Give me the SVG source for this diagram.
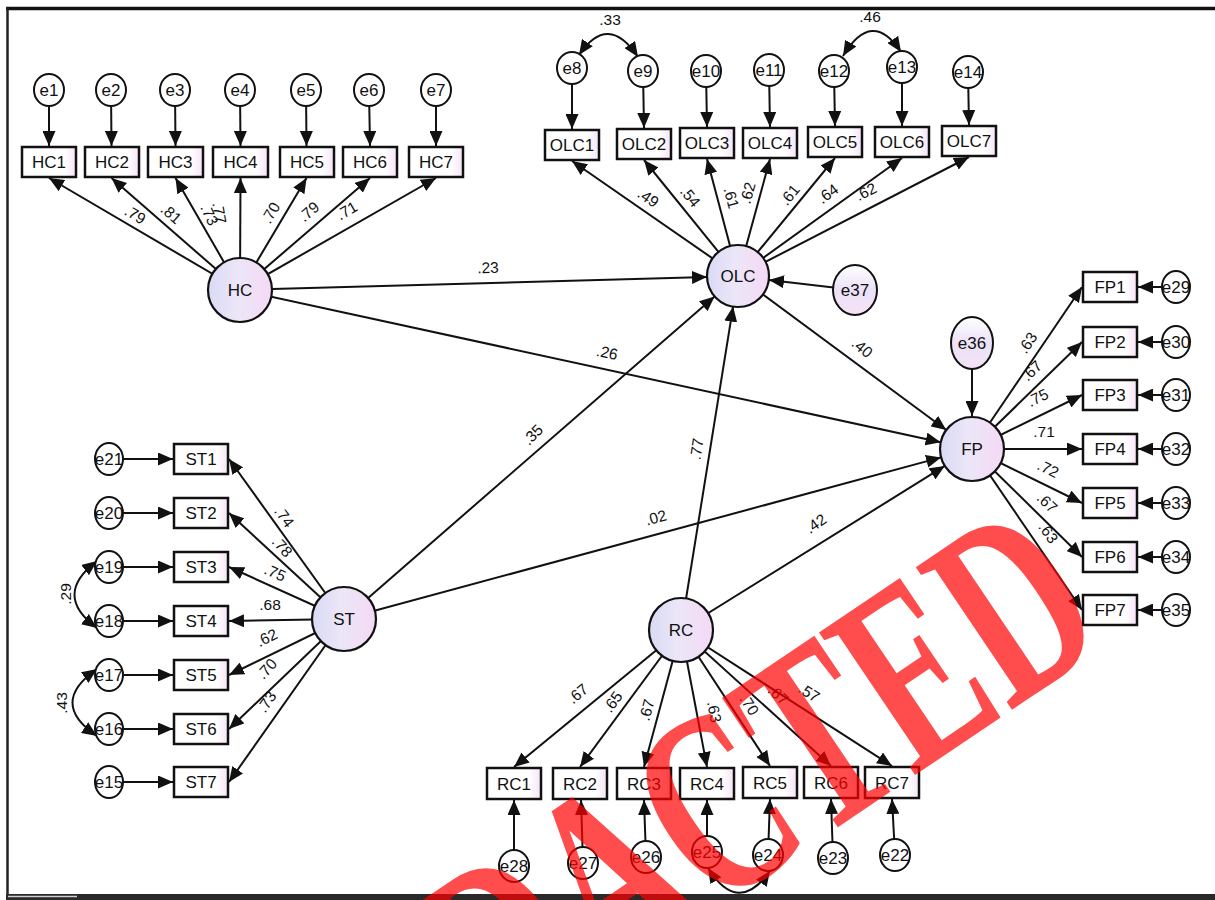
<svg xmlns="http://www.w3.org/2000/svg" width="1215" height="900" viewBox="0 0 1215 900">
<defs>
  <linearGradient id="latg" x1="0" y1="0" x2="1" y2="0">
    <stop offset="0" stop-color="#d8daf5"/>
    <stop offset="0.45" stop-color="#ece6f8"/>
    <stop offset="1" stop-color="#f4d9f4"/>
  </linearGradient>
  <linearGradient id="boxg" x1="0" y1="0" x2="1" y2="0">
    <stop offset="0" stop-color="#ffffff"/>
    <stop offset="0.78" stop-color="#ffffff"/>
    <stop offset="1" stop-color="#f6e4f7"/>
  </linearGradient>
  <linearGradient id="resg" x1="0" y1="0" x2="0" y2="1">
    <stop offset="0" stop-color="#ffffff"/>
    <stop offset="0.5" stop-color="#ebe1f7"/>
    <stop offset="1" stop-color="#f5e3f6"/>
  </linearGradient>
  <marker id="ah" markerUnits="userSpaceOnUse" markerWidth="16" markerHeight="13" refX="15" refY="6.5" orient="auto">
    <path d="M0,0 L15,6.5 L0,13 z" fill="#111"/>
  </marker>
  <marker id="ah2" markerUnits="userSpaceOnUse" markerWidth="16" markerHeight="13" refX="15" refY="6.5" orient="auto-start-reverse">
    <path d="M0,0 L15,6.5 L0,13 z" fill="#111"/>
  </marker>
</defs>
<style>
  .box{fill:url(#boxg);stroke:#111;stroke-width:2.5}
  .lat{fill:url(#latg);stroke:#111;stroke-width:2.2}
  .err{fill:#fff;stroke:#111;stroke-width:2}
  .res{fill:url(#resg);stroke:#111;stroke-width:2}
  .t{font-family:"Liberation Sans",Arial,sans-serif;font-size:17px;text-anchor:middle;fill:#111}
  .w{font-family:"Liberation Sans",Arial,sans-serif;font-size:15.5px;text-anchor:middle;fill:#111}
  .c{stroke:#111;stroke-width:2;fill:none;marker-end:url(#ah)}
  .cv{stroke:#111;stroke-width:2;fill:none;marker-start:url(#ah2);marker-end:url(#ah2)}
  .stamp{font-family:"Liberation Serif","Times New Roman",serif;font-weight:bold;font-size:175px;fill:#ff0000;fill-opacity:0.7}
</style>

<rect x="0" y="0" width="1215" height="900" fill="#fff"/>

<!-- frame -->
<g id="frame">
  <line x1="6" y1="8.5" x2="1215" y2="8.5" stroke="#111" stroke-width="3.5"/>
  <line x1="7.5" y1="7" x2="7.5" y2="896" stroke="#222" stroke-width="2.5"/>
  <rect x="6" y="894" width="1209" height="6" fill="#2a2a2a"/>
  <line x1="8" y1="896.5" x2="77" y2="896.5" stroke="#cfcfcf" stroke-width="1.5"/>
</g>

<!-- connectors -->
<g id="connectors">
  <!-- HC indicators -->
  <line class="c" x1="240" y1="290" x2="49" y2="178"/>
  <line class="c" x1="240" y1="290" x2="111.5" y2="178"/>
  <line class="c" x1="240" y1="290" x2="175.5" y2="178"/>
  <line class="c" x1="240" y1="290" x2="240.5" y2="178"/>
  <line class="c" x1="240" y1="290" x2="306.5" y2="178"/>
  <line class="c" x1="240" y1="290" x2="370" y2="178"/>
  <line class="c" x1="240" y1="290" x2="436" y2="178"/>
  <line class="c" x1="49" y1="90" x2="49" y2="146"/>
  <line class="c" x1="111" y1="90" x2="111.5" y2="146"/>
  <line class="c" x1="175" y1="90" x2="175.5" y2="146"/>
  <line class="c" x1="240" y1="90" x2="240.5" y2="146"/>
  <line class="c" x1="306" y1="90" x2="306.5" y2="146"/>
  <line class="c" x1="369" y1="90" x2="370" y2="146"/>
  <line class="c" x1="436" y1="90" x2="436" y2="146"/>

  <!-- OLC indicators -->
  <line class="c" x1="738" y1="276" x2="572" y2="161"/>
  <line class="c" x1="738" y1="276" x2="644" y2="160"/>
  <line class="c" x1="738" y1="276" x2="707" y2="159"/>
  <line class="c" x1="738" y1="276" x2="770" y2="159"/>
  <line class="c" x1="738" y1="276" x2="835" y2="158"/>
  <line class="c" x1="738" y1="276" x2="902" y2="158"/>
  <line class="c" x1="738" y1="276" x2="969" y2="157"/>
  <line class="c" x1="572" y1="68" x2="572" y2="129"/>
  <line class="c" x1="643" y1="71" x2="644" y2="128"/>
  <line class="c" x1="706" y1="71" x2="707" y2="127"/>
  <line class="c" x1="769" y1="70" x2="770" y2="127"/>
  <line class="c" x1="834" y1="71" x2="835" y2="126"/>
  <line class="c" x1="902" y1="67" x2="902" y2="126"/>
  <line class="c" x1="968" y1="72" x2="969" y2="125"/>
  <path class="cv" d="M579,55 Q608,12 638,57"/>
  <path class="cv" d="M843,56 Q872,8 901,52"/>

  <!-- FP indicators -->
  <line class="c" x1="972" y1="449" x2="1082" y2="287"/>
  <line class="c" x1="972" y1="449" x2="1082" y2="342"/>
  <line class="c" x1="972" y1="449" x2="1082" y2="395"/>
  <line class="c" x1="972" y1="449" x2="1082" y2="449"/>
  <line class="c" x1="972" y1="449" x2="1082" y2="503"/>
  <line class="c" x1="972" y1="449" x2="1082" y2="557"/>
  <line class="c" x1="972" y1="449" x2="1082" y2="610"/>
  <line class="c" x1="1176" y1="287" x2="1138" y2="287"/>
  <line class="c" x1="1176" y1="342" x2="1138" y2="342"/>
  <line class="c" x1="1176" y1="395" x2="1138" y2="395"/>
  <line class="c" x1="1176" y1="449" x2="1138" y2="449"/>
  <line class="c" x1="1176" y1="503" x2="1138" y2="503"/>
  <line class="c" x1="1176" y1="557" x2="1138" y2="557"/>
  <line class="c" x1="1176" y1="610" x2="1138" y2="610"/>

  <!-- ST indicators -->
  <line class="c" x1="344" y1="619" x2="229" y2="459"/>
  <line class="c" x1="344" y1="619" x2="229" y2="513"/>
  <line class="c" x1="344" y1="619" x2="229" y2="567"/>
  <line class="c" x1="344" y1="619" x2="229" y2="621"/>
  <line class="c" x1="344" y1="619" x2="229" y2="675"/>
  <line class="c" x1="344" y1="619" x2="229" y2="729"/>
  <line class="c" x1="344" y1="619" x2="229" y2="782"/>
  <line class="c" x1="109" y1="459" x2="173" y2="459"/>
  <line class="c" x1="109" y1="513" x2="173" y2="513"/>
  <line class="c" x1="109" y1="567" x2="173" y2="567"/>
  <line class="c" x1="109" y1="621" x2="173" y2="621"/>
  <line class="c" x1="109" y1="675" x2="173" y2="675"/>
  <line class="c" x1="109" y1="729" x2="173" y2="729"/>
  <line class="c" x1="109" y1="782" x2="173" y2="782"/>
  <path class="cv" d="M97,561 Q52,595 97,628"/>
  <path class="cv" d="M97,669 Q48,703 97,736"/>

  <!-- RC indicators -->
  <line class="c" x1="681" y1="630" x2="514" y2="767"/>
  <line class="c" x1="681" y1="630" x2="580" y2="767"/>
  <line class="c" x1="681" y1="630" x2="644" y2="767"/>
  <line class="c" x1="681" y1="630" x2="707" y2="767"/>
  <line class="c" x1="681" y1="630" x2="770" y2="766"/>
  <line class="c" x1="681" y1="630" x2="831" y2="766"/>
  <line class="c" x1="681" y1="630" x2="892" y2="766"/>
  <line class="c" x1="514" y1="866" x2="514" y2="800"/>
  <line class="c" x1="583" y1="863" x2="581" y2="800"/>
  <line class="c" x1="646" y1="857" x2="644" y2="800"/>
  <line class="c" x1="707" y1="852" x2="707" y2="800"/>
  <line class="c" x1="768" y1="855" x2="770" y2="799"/>
  <line class="c" x1="833" y1="858" x2="831" y2="799"/>
  <line class="c" x1="895" y1="855" x2="892" y2="799"/>
  <path class="cv" d="M708,868 Q738,916 770,871"/>

  <!-- structural paths -->
  <line class="c" x1="240" y1="290" x2="707" y2="277"/>
  <line class="c" x1="240" y1="290" x2="940.7" y2="442.2"/>
  <line class="c" x1="344" y1="619" x2="714.6" y2="296.4"/>
  <line class="c" x1="344" y1="619" x2="941.1" y2="457.4"/>
  <line class="c" x1="681" y1="630" x2="733.1" y2="306.6"/>
  <line class="c" x1="681" y1="630" x2="944.8" y2="465.9"/>
  <line class="c" x1="738" y1="276" x2="946.3" y2="430"/>
  <line class="c" x1="855" y1="290" x2="769" y2="280"/>
  <line class="c" x1="972" y1="343" x2="972" y2="416"/>
</g>

<!-- path coefficients -->
<g id="weights">
  <text class="w" dy="5" transform="translate(135,215) rotate(30)">.79</text>
  <text class="w" dy="5" transform="translate(171,214) rotate(41)">.81</text>
  <text class="w" dy="5" transform="translate(209,215) rotate(65)">.73</text>
  <text class="w" dy="5" transform="translate(219,213) rotate(80)">.77</text>
  <text class="w" dy="5" transform="translate(271,213) rotate(-60)">.70</text>
  <text class="w" dy="5" transform="translate(309,212) rotate(-41)">.79</text>
  <text class="w" dy="5" transform="translate(347,211) rotate(-30)">.71</text>

  <text class="w" dy="5" transform="translate(648,198) rotate(35)">.49</text>
  <text class="w" dy="5" transform="translate(690,197) rotate(51)">.54</text>
  <text class="w" dy="5" transform="translate(731,198) rotate(75)">.61</text>
  <text class="w" dy="5" transform="translate(748,193) rotate(-75)">.62</text>
  <text class="w" dy="5" transform="translate(790,195) rotate(-51)">.61</text>
  <text class="w" dy="5" transform="translate(828,194) rotate(-36)">.64</text>
  <text class="w" dy="5" transform="translate(866,192) rotate(-27)">.62</text>

  <text class="w" dy="5" transform="translate(1028,343) rotate(-56)">.63</text>
  <text class="w" dy="5" transform="translate(1032,371) rotate(-44)">.67</text>
  <text class="w" dy="5" transform="translate(1038,398) rotate(-26)">.75</text>
  <text class="w" dy="5" transform="translate(1044,432)">.71</text>
  <text class="w" dy="5" transform="translate(1048,469) rotate(26)">.72</text>
  <text class="w" dy="5" transform="translate(1047,503) rotate(44)">.67</text>
  <text class="w" dy="5" transform="translate(1048,533) rotate(55)">.63</text>

  <text class="w" dy="5" transform="translate(284,517) rotate(54)">.74</text>
  <text class="w" dy="5" transform="translate(282,547) rotate(48)">.78</text>
  <text class="w" dy="5" transform="translate(275,573) rotate(24)">.75</text>
  <text class="w" dy="5" transform="translate(270,605)">.68</text>
  <text class="w" dy="5" transform="translate(267,638) rotate(-26)">.62</text>
  <text class="w" dy="5" transform="translate(267,669) rotate(-48)">.70</text>
  <text class="w" dy="5" transform="translate(267,702) rotate(-55)">.73</text>
  <text class="w" dy="5" transform="translate(66,594) rotate(-90)">.29</text>
  <text class="w" dy="5" transform="translate(62,703) rotate(-90)">.43</text>

  <text class="w" dy="5" transform="translate(578,694) rotate(-40)">.67</text>
  <text class="w" dy="5" transform="translate(613,702) rotate(-54)">.65</text>
  <text class="w" dy="5" transform="translate(647,710) rotate(-75)">.67</text>
  <text class="w" dy="5" transform="translate(714,712) rotate(79)">.63</text>
  <text class="w" dy="5" transform="translate(749,705) rotate(57)">.70</text>
  <text class="w" dy="5" transform="translate(778,695) rotate(42)">.67</text>
  <text class="w" dy="5" transform="translate(809,693) rotate(33)">.57</text>

  <text class="w" dy="5" transform="translate(610,20)">.33</text>
  <text class="w" dy="5" transform="translate(870,17)">.46</text>

  <text class="w" dy="5" transform="translate(488,268) rotate(-2)">.23</text>
  <text class="w" dy="5" transform="translate(607,353) rotate(12)">.26</text>
  <text class="w" dy="5" transform="translate(533,435) rotate(-45)">.35</text>
  <text class="w" dy="5" transform="translate(697,449) rotate(-81)">.77</text>
  <text class="w" dy="5" transform="translate(656,518) rotate(-15)">.02</text>
  <text class="w" dy="5" transform="translate(816,524) rotate(-35)">.42</text>
  <text class="w" dy="5" transform="translate(862,348) rotate(40)">.40</text>
</g>

<!-- HC block -->
<g id="HC">
  <circle class="lat" cx="240" cy="290" r="32"/>
  <text class="t" x="240" y="296">HC</text>
</g>
<g id="HC1"><rect class="box" x="22" y="147" width="54" height="30"/><text class="t" x="49" y="168">HC1</text></g>
<g id="HC2"><rect class="box" x="85" y="147" width="54" height="30"/><text class="t" x="112" y="168">HC2</text></g>
<g id="HC3"><rect class="box" x="148" y="147" width="55" height="30"/><text class="t" x="175.5" y="168">HC3</text></g>
<g id="HC4"><rect class="box" x="213" y="147" width="55" height="30"/><text class="t" x="240.5" y="168">HC4</text></g>
<g id="HC5"><rect class="box" x="280" y="147" width="54" height="30"/><text class="t" x="307" y="168">HC5</text></g>
<g id="HC6"><rect class="box" x="343" y="147" width="54" height="30"/><text class="t" x="370" y="168">HC6</text></g>
<g id="HC7"><rect class="box" x="409" y="147" width="54" height="30"/><text class="t" x="436" y="168">HC7</text></g>
<g id="e1"><ellipse class="err" cx="49" cy="90" rx="15" ry="16"/><text class="t" x="49" y="96">e1</text></g>
<g id="e2"><ellipse class="err" cx="111" cy="90" rx="15" ry="16"/><text class="t" x="111" y="96">e2</text></g>
<g id="e3"><ellipse class="err" cx="175" cy="90" rx="15" ry="16"/><text class="t" x="175" y="96">e3</text></g>
<g id="e4"><ellipse class="err" cx="240" cy="90" rx="15" ry="16"/><text class="t" x="240" y="96">e4</text></g>
<g id="e5"><ellipse class="err" cx="306" cy="90" rx="15" ry="16"/><text class="t" x="306" y="96">e5</text></g>
<g id="e6"><ellipse class="err" cx="369" cy="90" rx="15" ry="16"/><text class="t" x="369" y="96">e6</text></g>
<g id="e7"><ellipse class="err" cx="436" cy="90" rx="15" ry="16"/><text class="t" x="436" y="96">e7</text></g>

<!-- OLC block -->
<g id="OLC">
  <circle class="lat" cx="738" cy="276" r="31"/>
  <text class="t" x="738" y="282">OLC</text>
</g>
<g id="OLC1"><rect class="box" x="545" y="130" width="54" height="30"/><text class="t" x="572" y="151">OLC1</text></g>
<g id="OLC2"><rect class="box" x="617" y="129" width="54" height="30"/><text class="t" x="644" y="150">OLC2</text></g>
<g id="OLC3"><rect class="box" x="680" y="128" width="54" height="30"/><text class="t" x="707" y="149">OLC3</text></g>
<g id="OLC4"><rect class="box" x="743" y="128" width="54" height="30"/><text class="t" x="770" y="149">OLC4</text></g>
<g id="OLC5"><rect class="box" x="808" y="127" width="54" height="30"/><text class="t" x="835" y="148">OLC5</text></g>
<g id="OLC6"><rect class="box" x="875" y="127" width="54" height="30"/><text class="t" x="902" y="148">OLC6</text></g>
<g id="OLC7"><rect class="box" x="942" y="126" width="54" height="30"/><text class="t" x="969" y="147">OLC7</text></g>
<g id="e8"><ellipse class="err" cx="572" cy="68" rx="15" ry="16"/><text class="t" x="572" y="74">e8</text></g>
<g id="e9"><ellipse class="err" cx="643" cy="71" rx="15" ry="16"/><text class="t" x="643" y="77">e9</text></g>
<g id="e10"><ellipse class="err" cx="706" cy="71" rx="15" ry="16"/><text class="t" x="706" y="77">e10</text></g>
<g id="e11"><ellipse class="err" cx="769" cy="70" rx="15" ry="16"/><text class="t" x="769" y="76">e11</text></g>
<g id="e12"><ellipse class="err" cx="834" cy="71" rx="15" ry="16"/><text class="t" x="834" y="77">e12</text></g>
<g id="e13"><ellipse class="err" cx="902" cy="67" rx="15" ry="16"/><text class="t" x="902" y="73">e13</text></g>
<g id="e14"><ellipse class="err" cx="968" cy="72" rx="15" ry="16"/><text class="t" x="968" y="78">e14</text></g>
<g id="e37"><ellipse class="res" cx="855" cy="290" rx="22" ry="25"/><text class="t" x="855" y="296">e37</text></g>

<!-- FP block -->
<g id="FP">
  <circle class="lat" cx="972" cy="449" r="32"/>
  <text class="t" x="972" y="455">FP</text>
</g>
<g id="e36"><ellipse class="res" cx="972" cy="343" rx="21" ry="26"/><text class="t" x="972" y="349">e36</text></g>
<g id="FP1"><rect class="box" x="1083" y="272" width="54" height="30"/><text class="t" x="1110" y="293">FP1</text></g>
<g id="FP2"><rect class="box" x="1083" y="327" width="54" height="30"/><text class="t" x="1110" y="348">FP2</text></g>
<g id="FP3"><rect class="box" x="1083" y="380" width="54" height="30"/><text class="t" x="1110" y="401">FP3</text></g>
<g id="FP4"><rect class="box" x="1083" y="434" width="54" height="30"/><text class="t" x="1110" y="455">FP4</text></g>
<g id="FP5"><rect class="box" x="1083" y="488" width="54" height="30"/><text class="t" x="1110" y="509">FP5</text></g>
<g id="FP6"><rect class="box" x="1083" y="542" width="54" height="30"/><text class="t" x="1110" y="563">FP6</text></g>
<g id="FP7"><rect class="box" x="1083" y="595" width="54" height="30"/><text class="t" x="1110" y="616">FP7</text></g>
<g id="e29"><ellipse class="err" cx="1176" cy="287" rx="14" ry="16"/><text class="t" x="1176" y="293">e29</text></g>
<g id="e30"><ellipse class="err" cx="1176" cy="342" rx="14" ry="16"/><text class="t" x="1176" y="348">e30</text></g>
<g id="e31"><ellipse class="err" cx="1176" cy="395" rx="14" ry="16"/><text class="t" x="1176" y="401">e31</text></g>
<g id="e32"><ellipse class="err" cx="1176" cy="449" rx="14" ry="16"/><text class="t" x="1176" y="455">e32</text></g>
<g id="e33"><ellipse class="err" cx="1176" cy="503" rx="14" ry="16"/><text class="t" x="1176" y="509">e33</text></g>
<g id="e34"><ellipse class="err" cx="1176" cy="557" rx="14" ry="16"/><text class="t" x="1176" y="563">e34</text></g>
<g id="e35"><ellipse class="err" cx="1176" cy="610" rx="14" ry="16"/><text class="t" x="1176" y="616">e35</text></g>

<!-- ST block -->
<g id="ST">
  <circle class="lat" cx="344" cy="619" r="32"/>
  <text class="t" x="344" y="625">ST</text>
</g>
<g id="ST1"><rect class="box" x="174" y="444" width="54" height="30"/><text class="t" x="201" y="465">ST1</text></g>
<g id="ST2"><rect class="box" x="174" y="498" width="54" height="30"/><text class="t" x="201" y="519">ST2</text></g>
<g id="ST3"><rect class="box" x="174" y="552" width="54" height="30"/><text class="t" x="201" y="573">ST3</text></g>
<g id="ST4"><rect class="box" x="174" y="606" width="54" height="30"/><text class="t" x="201" y="627">ST4</text></g>
<g id="ST5"><rect class="box" x="174" y="660" width="54" height="30"/><text class="t" x="201" y="681">ST5</text></g>
<g id="ST6"><rect class="box" x="174" y="714" width="54" height="30"/><text class="t" x="201" y="735">ST6</text></g>
<g id="ST7"><rect class="box" x="174" y="767" width="54" height="30"/><text class="t" x="201" y="788">ST7</text></g>
<g id="e21"><ellipse class="err" cx="109" cy="459" rx="14" ry="16"/><text class="t" x="109" y="465">e21</text></g>
<g id="e20"><ellipse class="err" cx="109" cy="513" rx="14" ry="16"/><text class="t" x="109" y="519">e20</text></g>
<g id="e19"><ellipse class="err" cx="109" cy="567" rx="14" ry="16"/><text class="t" x="109" y="573">e19</text></g>
<g id="e18"><ellipse class="err" cx="109" cy="621" rx="14" ry="16"/><text class="t" x="109" y="627">e18</text></g>
<g id="e17"><ellipse class="err" cx="109" cy="675" rx="14" ry="16"/><text class="t" x="109" y="681">e17</text></g>
<g id="e16"><ellipse class="err" cx="109" cy="729" rx="14" ry="16"/><text class="t" x="109" y="735">e16</text></g>
<g id="e15"><ellipse class="err" cx="109" cy="782" rx="14" ry="16"/><text class="t" x="109" y="788">e15</text></g>

<!-- RC block -->
<g id="RC">
  <circle class="lat" cx="681" cy="630" r="32"/>
  <text class="t" x="681" y="636">RC</text>
</g>
<g id="RC1"><rect class="box" x="487" y="768" width="54" height="31"/><text class="t" x="514" y="790">RC1</text></g>
<g id="RC2"><rect class="box" x="553" y="768" width="54" height="31"/><text class="t" x="580" y="790">RC2</text></g>
<g id="RC3"><rect class="box" x="617" y="768" width="54" height="31"/><text class="t" x="644" y="790">RC3</text></g>
<g id="RC4"><rect class="box" x="680" y="768" width="54" height="31"/><text class="t" x="707" y="790">RC4</text></g>
<g id="RC5"><rect class="box" x="743" y="767" width="54" height="31"/><text class="t" x="770" y="789">RC5</text></g>
<g id="RC6"><rect class="box" x="804" y="767" width="54" height="31"/><text class="t" x="831" y="789">RC6</text></g>
<g id="RC7"><rect class="box" x="865" y="767" width="54" height="31"/><text class="t" x="892" y="789">RC7</text></g>
<g id="e28"><ellipse class="err" cx="514" cy="866" rx="15" ry="16"/><text class="t" x="514" y="872">e28</text></g>
<g id="e27"><ellipse class="err" cx="583" cy="863" rx="15" ry="16"/><text class="t" x="583" y="869">e27</text></g>
<g id="e26"><ellipse class="err" cx="646" cy="857" rx="15" ry="16"/><text class="t" x="646" y="863">e26</text></g>
<g id="e25"><ellipse class="err" cx="707" cy="852" rx="15" ry="16"/><text class="t" x="707" y="858">e25</text></g>
<g id="e24"><ellipse class="err" cx="768" cy="855" rx="15" ry="16"/><text class="t" x="768" y="861">e24</text></g>
<g id="e23"><ellipse class="err" cx="833" cy="858" rx="15" ry="16"/><text class="t" x="833" y="864">e23</text></g>
<g id="e22"><ellipse class="err" cx="895" cy="855" rx="15" ry="16"/><text class="t" x="895" y="861">e22</text></g>

<!-- stamp over the figure -->
<g id="stamp">
  <text class="stamp" transform="translate(300,1190) rotate(-34) scale(1,1.5)">REDACTED</text>
</g>
</svg>
